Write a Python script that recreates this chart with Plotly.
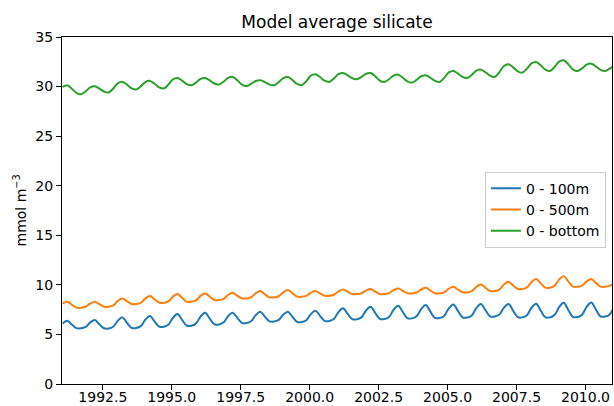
import plotly.graph_objects as go

# ---------------- data ----------------
years = list(range(1991, 2011))
months = [1, 3, 5, 7, 9, 11]          # bi-monthly samples (mid-month)
final_year, final_month = 2011, 1     # one sample past the axis end

series_names = ["0 - 100m", "0 - 500m", "0 - bottom"]
series_colors = ["#1f77b4", "#ff7f0e", "#2ca02c"]

si_100m = [
    6.10, 6.38, 6.00, 5.64, 5.62, 5.75,   # 1991
    6.20, 6.45, 6.02, 5.62, 5.60, 5.78,   # 1992
    6.38, 6.72, 6.18, 5.67, 5.65, 5.84,   # 1993
    6.49, 6.85, 6.31, 5.79, 5.77, 5.97,   # 1994
    6.67, 7.05, 6.46, 5.90, 5.88, 6.09,   # 1995
    6.80, 7.19, 6.60, 6.03, 6.01, 6.20,   # 1996
    6.84, 7.19, 6.67, 6.17, 6.15, 6.33,   # 1997
    6.95, 7.29, 6.80, 6.32, 6.30, 6.46,   # 1998
    6.99, 7.29, 6.77, 6.27, 6.25, 6.43,   # 1999
    7.05, 7.39, 6.87, 6.37, 6.35, 6.55,   # 2000
    7.25, 7.63, 7.08, 6.54, 6.52, 6.72,   # 2001
    7.41, 7.79, 7.17, 6.57, 6.55, 6.76,   # 2002
    7.49, 7.89, 7.26, 6.64, 6.62, 6.83,   # 2003
    7.56, 7.96, 7.31, 6.67, 6.65, 6.87,   # 2004
    7.62, 8.03, 7.37, 6.72, 6.70, 6.92,   # 2005
    7.65, 8.06, 7.43, 6.82, 6.80, 7.00,   # 2006
    7.68, 8.06, 7.39, 6.74, 6.72, 6.94,   # 2007
    7.69, 8.10, 7.41, 6.74, 6.72, 6.96,   # 2008
    7.75, 8.19, 7.47, 6.77, 6.75, 6.99,   # 2009
    7.79, 8.23, 7.52, 6.82, 6.80, 7.02,   # 2010
    7.85,                                 # 2011 Jan
]

si_500m = [
    8.13, 8.30, 8.00, 7.70, 7.69, 7.79,   # 1991
    8.12, 8.30, 8.05, 7.80, 7.79, 7.92,   # 1992
    8.38, 8.63, 8.35, 8.07, 8.06, 8.19,   # 1993
    8.63, 8.87, 8.54, 8.21, 8.20, 8.34,   # 1994
    8.81, 9.07, 8.69, 8.31, 8.30, 8.43,   # 1995
    8.89, 9.14, 8.81, 8.48, 8.47, 8.59,   # 1996
    8.98, 9.20, 8.92, 8.64, 8.63, 8.75,   # 1997
    9.15, 9.37, 9.05, 8.74, 8.73, 8.85,   # 1998
    9.25, 9.47, 9.14, 8.81, 8.80, 8.89,   # 1999
    9.20, 9.37, 9.14, 8.91, 8.90, 9.00,   # 2000
    9.35, 9.54, 9.31, 9.08, 9.07, 9.15,   # 2001
    9.42, 9.57, 9.32, 9.08, 9.07, 9.16,   # 2002
    9.47, 9.64, 9.39, 9.15, 9.14, 9.23,   # 2003
    9.54, 9.71, 9.43, 9.15, 9.14, 9.25,   # 2004
    9.61, 9.81, 9.53, 9.25, 9.24, 9.37,   # 2005
    9.80, 10.04, 9.71, 9.38, 9.37, 9.52,  # 2006
    10.03, 10.31, 9.94, 9.58, 9.57, 9.73, # 2007
    10.28, 10.58, 10.15, 9.72, 9.71, 9.90,# 2008
    10.53, 10.88, 10.35, 9.82, 9.81, 9.93,# 2009
    10.35, 10.58, 10.20, 9.82, 9.81, 9.90,# 2010
    10.15,                                # 2011 Jan
]

si_bottom = [
    29.96, 30.13, 29.79, 29.37, 29.22, 29.52,   # 1991
    29.92, 30.03, 29.80, 29.50, 29.40, 29.80,   # 1992
    30.33, 30.47, 30.19, 29.82, 29.70, 30.02,   # 1993
    30.46, 30.57, 30.29, 29.92, 29.80, 30.20,   # 1994
    30.73, 30.87, 30.60, 30.25, 30.13, 30.40,   # 1995
    30.77, 30.87, 30.62, 30.31, 30.20, 30.48,   # 1996
    30.87, 30.97, 30.63, 30.20, 30.05, 30.27,   # 1997
    30.56, 30.64, 30.45, 30.21, 30.13, 30.44,   # 1998
    30.86, 30.97, 30.66, 30.26, 30.13, 30.54,   # 1999
    31.10, 31.24, 30.96, 30.59, 30.47, 30.80,   # 2000
    31.25, 31.37, 31.14, 30.84, 30.74, 30.97,   # 2001
    31.29, 31.37, 31.04, 30.61, 30.47, 30.74,   # 2002
    31.11, 31.20, 30.90, 30.53, 30.40, 30.67,   # 2003
    31.04, 31.14, 30.89, 30.58, 30.47, 30.88,   # 2004
    31.43, 31.57, 31.31, 30.98, 30.87, 31.18,   # 2005
    31.60, 31.71, 31.44, 31.09, 30.97, 31.44,   # 2006
    32.08, 32.25, 31.94, 31.54, 31.41, 31.81,   # 2007
    32.34, 32.48, 32.14, 31.72, 31.57, 31.97,   # 2008
    32.51, 32.65, 32.25, 31.74, 31.57, 31.84,   # 2009
    32.21, 32.31, 32.04, 31.69, 31.57, 31.80,   # 2010
    32.10,                                      # 2011 Jan
]

x_tick_values = [1992.5, 1995.0, 1997.5, 2000.0, 2002.5, 2005.0, 2007.5, 2010.0]
y_tick_values = [0, 5, 10, 15, 20, 25, 30, 35]

# decimal-year time index for the samples
time = [y + (m - 0.5) / 12 for y in years for m in months]
time.append(final_year + (final_month - 0.5) / 12)

# ---------------- figure ----------------
FONT = "DejaVu Sans"
fig = go.Figure()
for name, color, vals in zip(series_names, series_colors, [si_100m, si_500m, si_bottom]):
    fig.add_trace(go.Scatter(
        x=time, y=vals, mode="lines", name=name,
        line=dict(color=color, width=2, shape="spline", smoothing=1.0),
    ))

fig.update_layout(
    width=614, height=406,
    margin=dict(l=62, r=2, t=37, b=22, autoexpand=False),
    paper_bgcolor="white", plot_bgcolor="white",
    font=dict(family=FONT, size=14, color="black"),
    title=dict(text="Model average silicate", x=(62 + 612) / 2 / 614, xanchor="center",
               y=1 - 22 / 406, yanchor="middle", yref="container",
               font=dict(family=FONT, size=17, color="black")),
    showlegend=True,
    legend=dict(x=0.989, xanchor="right", y=0.612, yanchor="top",
                bgcolor="rgba(255,255,255,0.8)", bordercolor="#cccccc", borderwidth=1,
                font=dict(family=FONT, size=14, color="black"),
                tracegroupgap=0, itemwidth=30),
)
fig.update_xaxes(
    range=[1991.02, 2010.96], tickvals=x_tick_values, tickformat=".1f",
    showgrid=False, zeroline=False, showline=True, mirror=True, automargin=False,
    linecolor="black", linewidth=1, ticks="outside", ticklen=5, tickwidth=1,
    tickcolor="black", tickfont=dict(family=FONT, size=14, color="black"),
    ticklabelstandoff=-5,
)
fig.update_yaxes(
    range=[0, 35], tickvals=y_tick_values,
    showgrid=False, zeroline=False, showline=True, mirror=True, automargin=False,
    linecolor="black", linewidth=1, ticks="outside", ticklen=5, tickwidth=1,
    tickcolor="black", tickfont=dict(family=FONT, size=14, color="black"),
)
fig.add_annotation(
    text="mmol m<sup>−3</sup>", xref="paper", yref="paper", x=0, y=0.5,
    xanchor="center", yanchor="middle",
    xshift=-42, textangle=-90, showarrow=False,
    font=dict(family=FONT, size=14, color="black"),
)

fig.write_html(
    "out.html",
    config={"displayModeBar": False},
    post_script="document.body.style.margin='0px';document.body.style.overflow='hidden';",
)
